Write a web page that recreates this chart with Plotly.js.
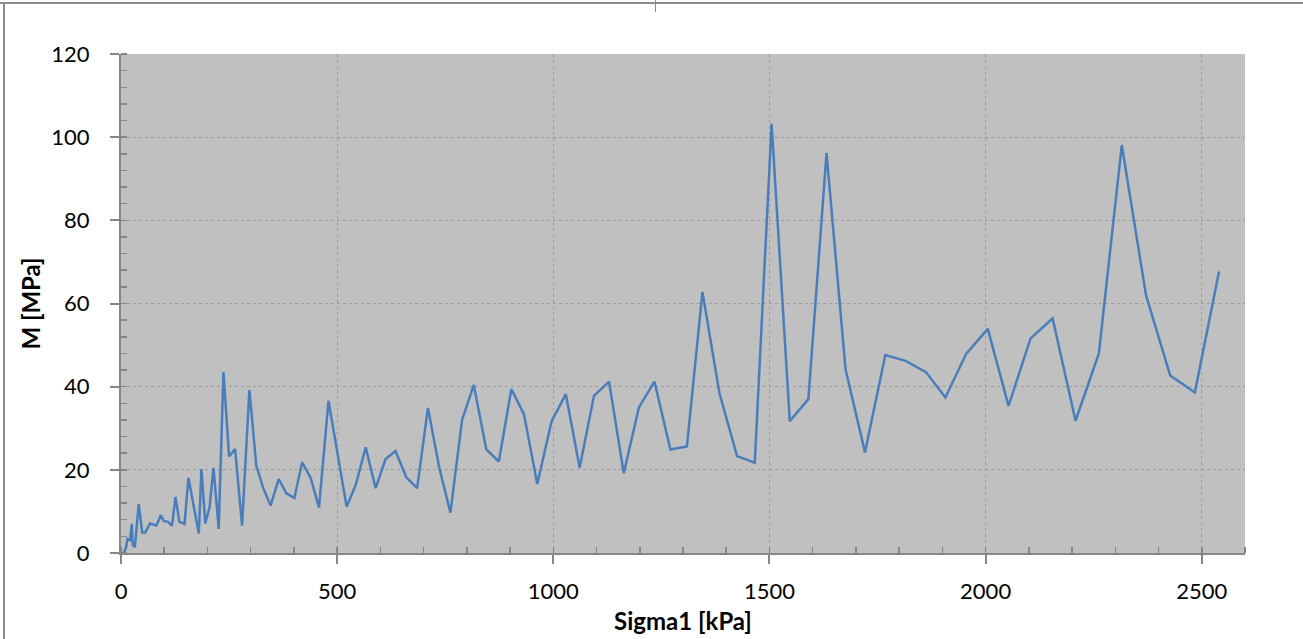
<!DOCTYPE html>
<html>
<head>
<meta charset="utf-8">
<script src="https://cdn.plot.ly/plotly-3.0.1.min.js"></script>
<style>
  html, body { margin: 0; padding: 0; background: #ffffff; }
  #wrap { position: relative; width: 1303px; height: 639px; overflow: hidden; }
  #chart { position: absolute; left: 0; top: 0; width: 1303px; height: 639px; }
  .frame { position: absolute; background: #8c8c8c; }
</style>
</head>
<body>
<div id="wrap">
  <div id="chart"></div>
  <div class="frame" style="left:0; top:2px; width:1303px; height:2px;"></div>
  <div class="frame" style="left:3px; top:2px; width:2px; height:637px;"></div>
  <div class="frame" style="left:655px; top:0; width:1px; height:12px;"></div>
</div>
<script>
const sigma1 = [7, 12, 15, 21, 25, 27, 32, 41, 49, 56, 67, 82, 92, 99, 109, 118, 126, 135, 147, 156,
  180, 186, 195, 205, 214, 226, 237, 250, 264, 280, 297, 313, 329, 346, 365, 382, 401, 419, 439, 458,
  480, 500, 522, 543, 566, 589, 612, 635, 660, 685, 710, 736, 762, 789, 816, 845, 874, 903, 932, 963,
  996, 1029, 1061, 1094, 1129, 1163, 1198, 1234, 1271, 1309, 1345, 1384, 1425, 1466, 1505, 1547, 1590, 1632, 1676, 1721,
  1768, 1815, 1862, 1907, 1955, 2005, 2053, 2104, 2155, 2208, 2262, 2315, 2371, 2427, 2484, 2540];
const modulusM = [0, 1.5, 3.4, 3.1, 7, 2, 1.4, 11.8, 4.9, 4.9, 7.1, 6.6, 9.1, 7.7, 7.5, 6.5, 13.5, 7.5, 7.0, 18.1,
  4.7, 20.2, 7.1, 11.1, 20.5, 5.8, 43.5, 23.2, 25, 6.6, 39.2, 21, 15.6, 11.4, 17.8, 14.4, 13.2, 21.8, 18, 10.9,
  36.6, 24.8, 11.1, 16.4, 25.4, 15.6, 22.6, 24.5, 18.2, 15.6, 34.9, 20.6, 9.7, 32, 40.4, 24.9, 22, 39.4, 33.4, 16.6,
  31.7, 38.2, 20.5, 37.8, 41.2, 19.2, 35, 41.2, 24.9, 25.6, 62.8, 38.6, 23.3, 21.7, 103.2, 31.7, 37, 96.2, 44.2, 24.2,
  47.6, 46.2, 43.5, 37.4, 47.9, 53.9, 35.4, 51.6, 56.4, 31.8, 48, 98.1, 62, 42.7, 38.6, 67.7];
const xTitle = "Sigma1 [kPa]";
const yTitle = "M [MPa]";

const axisColor = "#868686";
const gridColor = "#9c9c9c";
const fontFamily = "Lato, 'Open Sans', 'Liberation Sans', sans-serif";

const trace = {
  x: sigma1,
  y: modulusM,
  type: "scatter",
  mode: "lines",
  line: { color: "#4a7ebb", width: 2.5 },
  hoverinfo: "x+y"
};

const layout = {
  width: 1303,
  height: 639,
  margin: { l: 121, r: 58, t: 54, b: 86 },
  paper_bgcolor: "#ffffff",
  plot_bgcolor: "#c0c0c0",
  showlegend: false,
  font: { family: fontFamily, size: 22, color: "#000000" },
  xaxis: {
    range: [0, 2600],
    tick0: 0,
    dtick: 500,
    ticks: "outside",
    ticklen: 9,
    tickwidth: 2,
    tickcolor: axisColor,
    ticklabelstandoff: 9,
    showline: true,
    linecolor: axisColor,
    linewidth: 2,
    showgrid: true,
    gridcolor: gridColor,
    gridwidth: 1,
    griddash: "dot",
    zeroline: false,
    tickfont: { family: fontFamily, size: 22, color: "#000000" },
    minor: { dtick: 100, ticks: "inside", ticklen: 6, tickwidth: 1.5, tickcolor: axisColor, showgrid: false },
    title: { text: xTitle, font: { family: fontFamily, size: 24, color: "#000000", weight: "bold" }, standoff: 10 },
    fixedrange: true
  },
  yaxis: {
    range: [0, 120],
    tick0: 0,
    dtick: 20,
    ticks: "outside",
    ticklen: 9,
    tickwidth: 2,
    tickcolor: axisColor,
    ticklabelstandoff: 16,
    showline: true,
    linecolor: axisColor,
    linewidth: 2,
    showgrid: true,
    gridcolor: gridColor,
    gridwidth: 1,
    griddash: "dot",
    zeroline: false,
    tickfont: { family: fontFamily, size: 22, color: "#000000" },
    minor: { dtick: 4, ticks: "inside", ticklen: 6, tickwidth: 1.5, tickcolor: axisColor, showgrid: false },
    title: { text: yTitle, font: { family: fontFamily, size: 24, color: "#000000", weight: "bold" }, standoff: 4 },
    fixedrange: true
  }
};

Plotly.newPlot("chart", [trace], layout, { displayModeBar: false, staticPlot: true });
</script>
</body>
</html>
